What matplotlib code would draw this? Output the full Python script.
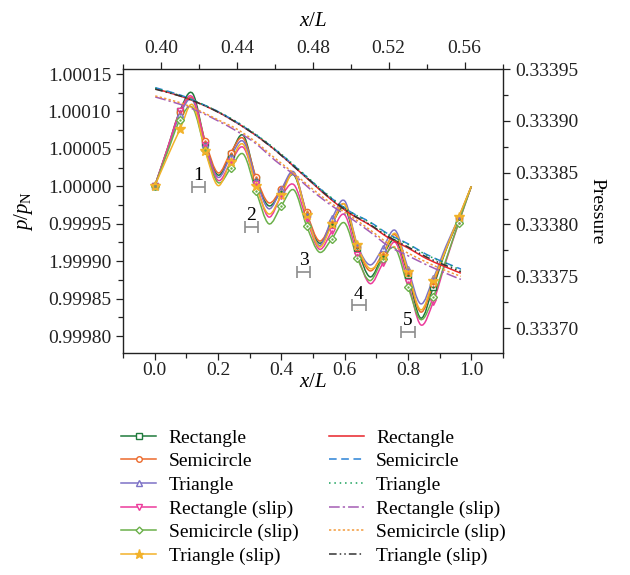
import numpy as np
import matplotlib
matplotlib.use("Agg")
import matplotlib.pyplot as plt
from matplotlib.path import Path
from matplotlib.patches import PathPatch
from matplotlib.lines import Line2D
from matplotlib.ticker import MultipleLocator, FixedLocator

plt.rcParams['font.family'] = ['Liberation Serif', 'DejaVu Serif']
plt.rcParams['mathtext.fontset'] = 'custom'
plt.rcParams['mathtext.rm'] = 'Liberation Serif'
plt.rcParams['mathtext.it'] = 'Liberation Serif:italic'

# ---- wall curves: (p/pN - 1) in units of 1e-5 against bottom x/L ----
x_wall = [0.00, 0.04, 0.08, 0.12, 0.16, 0.20, 0.24, 0.28, 0.32, 0.36, 0.40, 0.44, 0.48,
          0.52, 0.56, 0.60, 0.64, 0.68, 0.72, 0.76, 0.80, 0.84, 0.88, 0.92, 0.96, 1.00]
rect = [0, 5.0, 10.1, 12.4, 5.8, 1.5, 4.3, 6.8, 1.0, -2.6, -0.6, 1.5, -3.7,
        -7.6, -5.0, -2.9, -8.3, -12.1, -9.3, -7.2, -11.8, -17.6, -13.4, -8.5, -4.4, 0]
semi = [0, 4.9, 9.9, 11.7, 6.0, 1.8, 4.5, 6.4, 1.25, -2.2, -0.4, 1.7, -3.5,
        -7.3, -4.8, -2.4, -8.1, -11.3, -9.0, -6.5, -11.6, -16.8, -13.0, -8.3, -4.3, 0]
tri = [0, 4.8, 9.6, 11.5, 5.6, 1.2, 4.0, 6.0, 0.9, -3.0, -0.4, 1.9, -3.7,
       -7.9, -4.3, -1.95, -7.8, -10.5, -8.3, -5.9, -11.0, -15.7, -12.3, -8.0, -4.2, 0]
rect_slip = [0, 5.0, 10.0, 11.9, 5.5, 0.8, 3.2, 5.2, 0.3, -4.1, -1.3, 0.2, -4.4,
             -8.4, -6.0, -3.8, -9.2, -13.0, -10.3, -7.5, -12.8, -18.5, -15.4, -10.0, -4.9, 0]
semi_slip = [0, 4.5, 8.9, 10.5, 4.8, 0.5, 2.4, 4.3, -0.6, -5.0, -2.6, -0.5, -5.3,
             -8.8, -7.0, -4.9, -9.6, -12.6, -9.7, -8.3, -13.4, -17.8, -14.8, -9.8, -4.85, 0]
tri_slip = [0, 3.9, 7.6, 10.9, 4.7, 0.1, 3.3, 5.6, 0.05, -3.7, -1.2, 1.7, -3.9,
            -8.1, -5.1, -2.4, -7.9, -11.0, -9.3, -6.3, -11.4, -16.5, -12.6, -8.4, -4.1, 0]

# ---- pressure lines: (Pressure - 0.3337) in units of 1e-5 against top x/L ----
x_press = [0.397, 0.41, 0.42, 0.43, 0.44, 0.45, 0.46, 0.47, 0.48, 0.49, 0.50,
           0.51, 0.52, 0.53, 0.54, 0.55, 0.558]
rect_p = [23.1, 22.4, 21.7, 20.85, 19.8, 18.6, 17.2, 15.6, 13.95, 12.35, 11.0,
          9.95, 8.7, 7.75, 6.7, 5.9, 5.3]
semi_p = [23.2, 22.5, 21.75, 20.9, 19.85, 18.65, 17.25, 15.7, 14.05, 12.5, 11.2,
          10.25, 9.05, 8.15, 7.1, 6.3, 5.7]
tri_p = [23.15, 22.45, 21.75, 20.9, 19.9, 18.7, 17.3, 15.75, 14.1, 12.55, 11.2,
         10.2, 9.0, 8.1, 7.05, 6.25, 5.6]
rect_slip_p = [22.3, 21.6, 20.9, 20.0, 19.0, 17.8, 16.2, 14.8, 13.2, 11.8, 10.6,
               9.3, 7.9, 7.0, 6.1, 5.3, 4.7]
semi_slip_p = [22.4, 21.75, 21.0, 20.1, 19.2, 17.95, 16.4, 14.95, 13.4, 12.0, 10.8,
               9.5, 8.15, 7.25, 6.35, 5.55, 5.0]
tri_slip_p = [23.05, 22.4, 21.7, 20.85, 19.8, 18.6, 17.2, 15.6, 14.0, 12.4, 11.05,
              10.0, 8.8, 7.85, 6.85, 6.05, 5.45]

labels = ["Rectangle", "Semicircle", "Triangle",
          "Rectangle (slip)", "Semicircle (slip)", "Triangle (slip)"]

# numbered regions
region_labels = ["1", "2", "3", "4", "5"]
region_x = [0.138, 0.305, 0.47, 0.645, 0.80]
region_y = [-0.04, -5.4, -11.4, -15.9, -19.4]

left_ticks = [0.99980, 0.99985, 0.99990, 0.99995, 1.00000, 1.00005, 1.00010, 1.00015]
left_ticklabels = ["0.99980", "0.99985", "1.99990", "0.99995",
                   "1.00000", "1.00005", "1.00010", "1.00015"]
right_ticks = [0.33370, 0.33375, 0.33380, 0.33385, 0.33390, 0.33395]
bottom_ticks = [0.0, 0.2, 0.4, 0.6, 0.8, 1.0]
top_ticks = [0.40, 0.44, 0.48, 0.52, 0.56]


def smooth_path(x, y):
    # Catmull-Rom curve through the points, drawn as cubic Bezier pieces
    x = np.asarray(x, float)
    y = np.asarray(y, float)
    px = np.concatenate([[x[0]], x, [x[-1]]])
    py = np.concatenate([[y[0]], y, [y[-1]]])
    verts = [(x[0], y[0])]
    codes = [Path.MOVETO]
    for i in range(1, len(x)):
        c1 = (px[i] + (px[i + 1] - px[i - 1]) / 6, py[i] + (py[i + 1] - py[i - 1]) / 6)
        c2 = (px[i + 1] - (px[i + 2] - px[i]) / 6, py[i + 1] - (py[i + 2] - py[i]) / 6)
        verts += [c1, c2, (px[i + 1], py[i + 1])]
        codes += [Path.CURVE4] * 3
    return Path(verts, codes)


fig = plt.figure(figsize=(6.3, 5.75), dpi=100)
pos = [123 / 630, 1 - 353 / 575, 380 / 630, 284 / 575]
ax = fig.add_axes(pos)
ax2 = fig.add_axes(pos, frameon=False)
ax2.patch.set_visible(False)

FS = 14

# --- marker curves (left / bottom axes)
wall_series = [rect, semi, tri, rect_slip, semi_slip, tri_slip]
wall_colors = ["#1f7a3c", "#ec6a2c", "#7d72c6", "#ec3b9b", "#6bb04a", "#f2b22a"]
wall_markers = ["s", "o", "^", "v", "D", "*"]
wall_msize = [4.5, 4.5, 5, 5, 4, 7]
handles = []
for vals, c, m, ms in zip(wall_series, wall_colors, wall_markers, wall_msize):
    yv = 1 + np.array(vals) * 1e-5
    ax.add_patch(PathPatch(smooth_path(x_wall, yv), facecolor="none",
                           edgecolor=c, lw=1.1, zorder=3))
    mfc = c if m == "*" else "white"
    ax.plot(x_wall, yv, ls="none", marker=m, markevery=2, ms=ms, mfc=mfc,
            mec=c, mew=1.0, zorder=4)
    if m != "*":
        ax.plot(x_wall, yv, ls="none", marker=".", markevery=2, ms=1.5,
                color=c, zorder=5)
    handles.append(Line2D([], [], color=c, lw=1.1, marker=m, ms=ms - 0.5,
                          mfc=mfc, mec=c, mew=1.0))

# --- region brackets
yb = 1 + np.array(region_y) * 1e-5
ax.errorbar(region_x, yb, xerr=0.021, fmt="none", ecolor="#8c8c8c",
            elinewidth=1.2, capsize=4, capthick=1.2, zorder=2)
for lbl, xr, yr in zip(region_labels, region_x, yb):
    ax.annotate(lbl, (xr, yr), xytext=(0, 2), textcoords="offset points",
                ha="center", va="bottom", fontsize=FS)

# --- pressure lines (right / top axes)
press_series = [rect_p, semi_p, tri_p, rect_slip_p, semi_slip_p, tri_slip_p]
press_colors = ["#e8232a", "#2b83d6", "#17a05a", "#a45cb4", "#f39a3a", "#333333"]
press_dash = [None, (5, 3), (1, 2.5), (7, 2, 1.5, 2), (1.5, 1.5), (5, 2, 1, 2, 1, 2)]
for vals, c, d in zip(press_series, press_colors, press_dash):
    yv = 0.3337 + np.array(vals) * 1e-5
    patch = PathPatch(smooth_path(x_press, yv), facecolor="none",
                      edgecolor=c, lw=1.1, zorder=3)
    if d is not None:
        patch.set_linestyle((0, d))
    ax2.add_patch(patch)
    h = Line2D([], [], color=c, lw=1.1)
    if d is not None:
        h.set_dashes(d)
    handles.append(h)

# --- axes setup
ax.set_xlim(-0.1, 1.1)
ax.set_ylim(0.9997773, 1.0001567)
ax.xaxis.set_major_locator(FixedLocator(bottom_ticks))
ax.xaxis.set_minor_locator(MultipleLocator(0.1))
ax.set_xticklabels(["%.1f" % t for t in bottom_ticks])
ax.yaxis.set_major_locator(FixedLocator(left_ticks))
ax.yaxis.set_minor_locator(MultipleLocator(0.000025))
ax.set_yticklabels(left_ticklabels)
ax.set_xlabel(r"$x/L$", fontsize=FS + 1, labelpad=-4)
ax.set_ylabel(r"$p/p_\mathrm{N}$", fontsize=FS + 1, labelpad=9)

ax2.set_xlim(0.38, 0.5802)
ax2.set_ylim(0.333676, 0.33395)
ax2.xaxis.tick_top()
ax2.xaxis.set_label_position("top")
ax2.yaxis.tick_right()
ax2.yaxis.set_label_position("right")
ax2.xaxis.set_major_locator(FixedLocator(top_ticks))
ax2.xaxis.set_minor_locator(MultipleLocator(0.02))
ax2.set_xticklabels(["%.2f" % t for t in top_ticks])
ax2.yaxis.set_major_locator(FixedLocator(right_ticks))
ax2.yaxis.set_minor_locator(MultipleLocator(0.000025))
ax2.set_yticklabels(["%.5f" % t for t in right_ticks])
ax2.set_xlabel(r"$x/L$", fontsize=FS + 1, labelpad=10)
ax2.set_ylabel("Pressure", fontsize=FS, rotation=270, labelpad=20)

for a in (ax, ax2):
    a.tick_params(which="major", direction="out", length=5, width=0.9,
                  labelsize=FS, colors="#222222")
    a.tick_params(which="minor", direction="out", length=3.5, width=0.9,
                  colors="#222222")
ax.tick_params(axis="x", which="major", pad=1.5)
for s in ax.spines.values():
    s.set_linewidth(1.0)
    s.set_color("#222222")

fig.legend(handles, labels * 2, ncol=2, loc="upper left",
           bbox_to_anchor=(121 / 630, 1 - 429 / 575), frameon=False,
           fontsize=FS, handlelength=1.8, handletextpad=0.65,
           labelspacing=0.31, columnspacing=1.55, borderpad=0, borderaxespad=0)

fig.savefig("out.png", dpi=100)
